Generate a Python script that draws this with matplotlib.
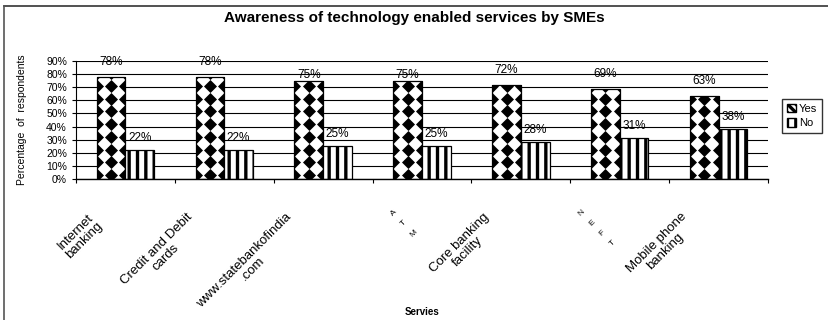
import matplotlib.pyplot as plt
import matplotlib.patches as mpatches
import numpy as np

plt.rcParams['font.family'] = ['Liberation Sans', 'DejaVu Sans']
plt.rcParams['hatch.linewidth'] = 2.4

services = ['Internet\nbanking', 'Credit and Debit\ncards', 'www.statebankofindia\n.com',
            'A\nT\nM', 'Core banking\nfacility', 'N\nE\nF\nT', 'Mobile phone\nbanking']
yes = [78, 78, 75, 75, 72, 69, 63]
no = [22, 22, 25, 25, 28, 31, 38]
yticks = [0, 10, 20, 30, 40, 50, 60, 70, 80, 90]

fig = plt.figure(figsize=(8.29, 3.2), dpi=100)
ax = fig.add_axes([76/829, 1-179/320, (768-76)/829, (179-61)/320])

x = np.arange(len(services))
w = 0.29
bars_yes = ax.bar(x - w/2, yes, w, color='white', edgecolor='black', linewidth=0.9, zorder=2)
bars_no = ax.bar(x + w/2, no, w, color='white', edgecolor='black', linewidth=0.9,
                 hatch='||', zorder=2)

# diamond pattern inside the "Yes" bars
rows = np.arange(3, 95, 9.7)
for b in bars_yes:
    x0 = b.get_x()
    cols = [x0, x0 + b.get_width()/2, x0 + b.get_width()]
    xx, yy = np.meshgrid(cols, rows)
    sc = ax.scatter(xx.ravel(), yy.ravel(), marker='D', s=44, color='black',
                    linewidths=0, zorder=3)
    sc.set_clip_path(b)

# value labels
lab_off = [6.5, 6.5, 0, 0, 6.5, 6.5, 6.5]
for i in range(len(services)):
    ax.annotate(f'{yes[i]}%', (x[i] - w/2, yes[i]), xytext=(0, lab_off[i]),
                textcoords='offset points', ha='center', va='bottom', fontsize=8.5,
                annotation_clip=False, zorder=4)
    ax.annotate(f'{no[i]}%', (x[i] + w/2, no[i]), xytext=(0, 4.5),
                textcoords='offset points', ha='center', va='bottom', fontsize=8.5)

ax.set_xlim(-0.5, len(services) - 0.5)
ax.set_ylim(0, 90)
ax.set_yticks(yticks)
ax.set_yticklabels([f'{v}%' for v in yticks], fontsize=7.5)
ax.set_xticks(np.arange(-0.5, len(services)))
ax.set_xticklabels([])
ax.tick_params(axis='both', direction='out', length=3, width=0.8, color='black')
ax.grid(axis='y', color='black', linewidth=0.8)
ax.set_axisbelow(True)
for s in ['top', 'right']:
    ax.spines[s].set_visible(False)
ax.spines['left'].set_linewidth(0.8)
ax.spines['bottom'].set_linewidth(1.0)

# category labels
for i, lab in enumerate(services):
    stacked = '\n' in lab and len(lab.replace('\n', '')) <= 4
    if stacked:
        ax.annotate(lab, (x[i], 0), xycoords=('data', 'axes fraction'), xytext=(-2, -21),
                    textcoords='offset points', rotation=45, ha='right', va='top',
                    fontsize=6, linespacing=2.5, multialignment='center')
    else:
        ax.annotate(lab, (x[i], 0), xycoords=('data', 'axes fraction'), xytext=(-15, -23),
                    textcoords='offset points', rotation=45, ha='right', va='top',
                    fontsize=9.5, linespacing=1.0, multialignment='center')

fig.text(22/829, 1-120/320, 'Percentage  of  respondents', rotation=90, ha='center',
         va='center', fontsize=7.5)
fig.text(422/829, 1-312/320, 'Servies', ha='center', va='center', fontsize=7, weight='bold')
fig.text(414/829, 1-18/320, 'Awareness of technology enabled services by SMEs', ha='center',
         va='center', fontsize=11, weight='bold')

handles = [mpatches.Patch(facecolor='white', edgecolor='black', hatch='\\\\\\\\', label='Yes'),
           mpatches.Patch(facecolor='white', edgecolor='black', hatch='||', label='No')]
fig.legend(handles=handles, loc='center', bbox_to_anchor=(802/829, 1-116/320), fontsize=8,
           frameon=True, fancybox=False, edgecolor='black', handlelength=0.8,
           handleheight=0.8, handletextpad=0.3, borderpad=0.4, labelspacing=0.4,
           borderaxespad=0)

# frame lines of the scanned chart
fig.add_artist(plt.Line2D([4/829, 1], [1-6/320, 1-6/320], color='#333333', linewidth=1.2))
fig.add_artist(plt.Line2D([4/829, 4/829], [0, 1-6/320], color='#555555', linewidth=1.2))

fig.savefig('out.png', dpi=100)
